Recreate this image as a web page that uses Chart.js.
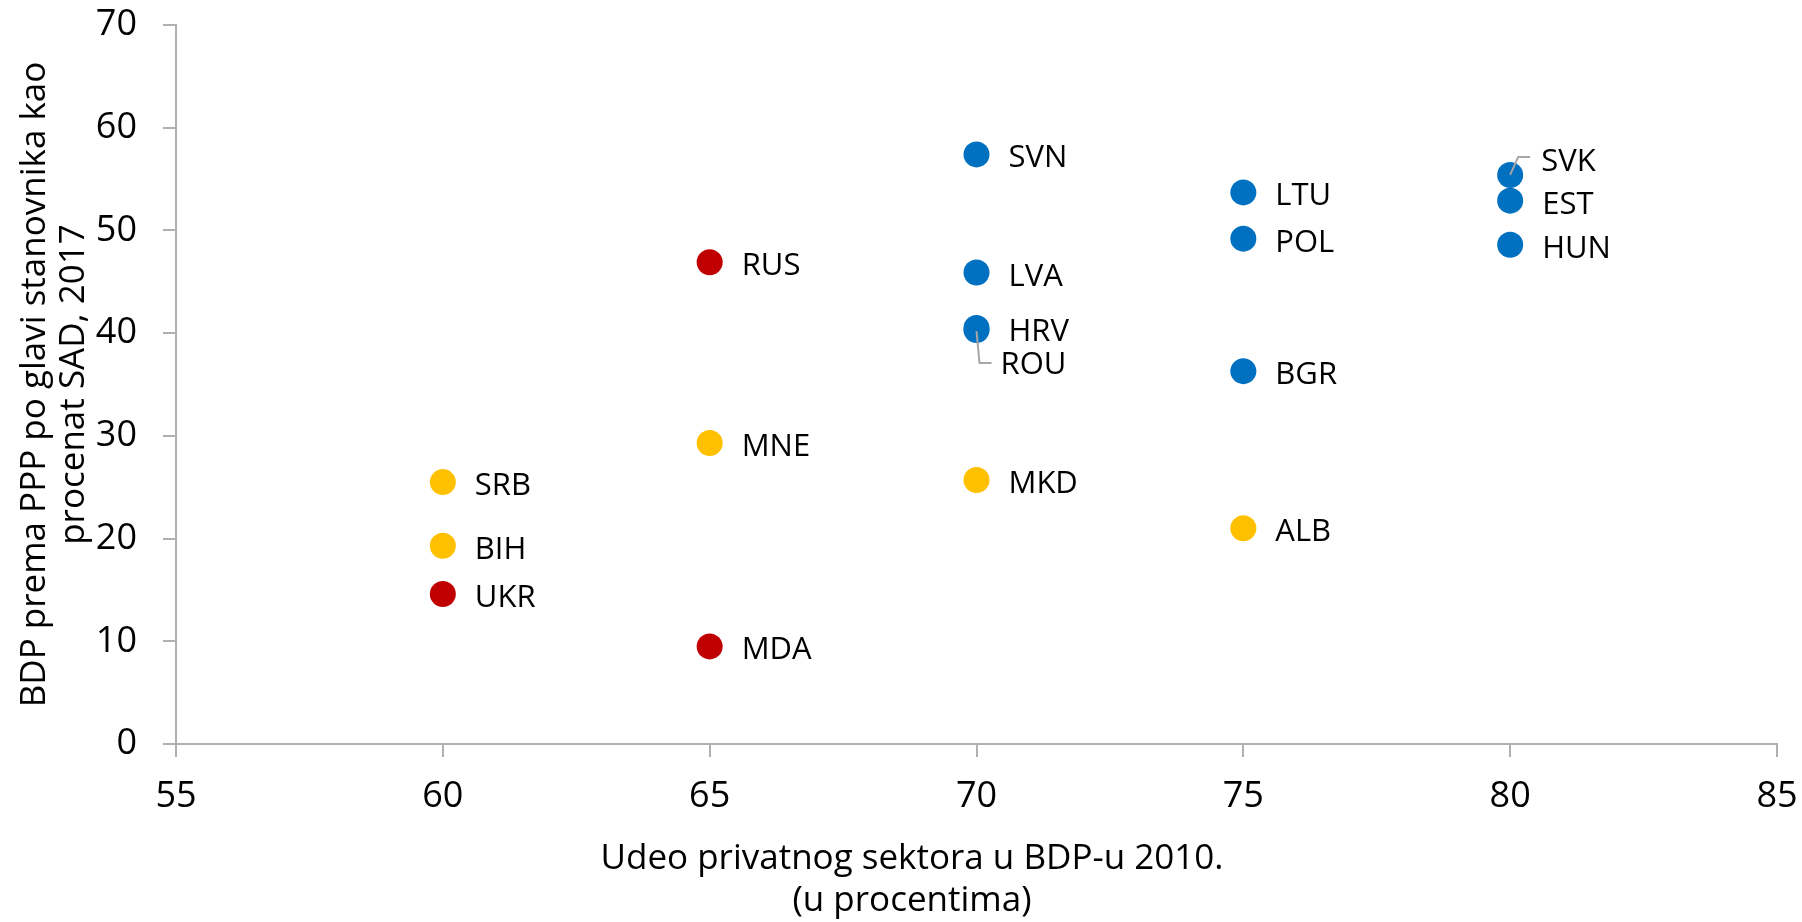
<!DOCTYPE html>
<html>
<head>
<meta charset="utf-8">
<script src="https://cdn.jsdelivr.net/npm/chart.js@4/dist/chart.umd.min.js"></script>
<style>
  html, body { margin: 0; padding: 0; background: #fff; }
  #wrap { width: 1802px; height: 922px; }
</style>
</head>
<body>
<div id="wrap"><canvas id="chart" width="1802" height="922"></canvas></div>
<script>
// Blue group
const blueNames = ["SVN", "LTU", "POL", "BGR", "LVA", "HRV", "ROU", "SVK", "EST", "HUN"]
const blueX = [70, 75, 75, 75, 70, 70, 70, 80, 80, 80]
const blueY = [57.4, 53.7, 49.2, 36.3, 45.9, 40.5, 40.3, 55.4, 52.9, 48.6]

// Red group
const redNames = ["RUS", "UKR", "MDA"]
const redX = [65, 60, 65]
const redY = [46.9, 14.6, 9.5]

// Yellow group
const yellowNames = ["SRB", "BIH", "MNE", "MKD", "ALB"]
const yellowX = [60, 60, 65, 70, 75]
const yellowY = [25.5, 19.3, 29.3, 25.7, 21.0]

const xTicks = [55, 60, 65, 70, 75, 80, 85]
const yTicks = [0, 10, 20, 30, 40, 50, 60, 70]

const yTitle = ["BDP prema PPP po glavi stanovnika kao", "procenat SAD, 2017"]
const xTitle = ["Udeo privatnog sektora u BDP-u 2010.", "(u procentima)"]

const FONT = "'Open Sans', 'Noto Sans', sans-serif"
const AXIS_GREY = "#b0b0b0"

// label placement tweaks (pixels), leader = polyline from the point
const labelOffsets = {
  SVK: { dx: 31, dy: -4, leader: [[0, 0], [8, -18], [20, -18]] },
  ROU: { dx: 24, dy: 44, leader: [[0, 1], [3, 33], [15, 33]] },
}

function toPoints(xs, ys) {
  return xs.map((x, i) => ({ x: x, y: ys[i] }))
}

const pointLabels = {
  id: "pointLabels",
  afterDatasetsDraw(chart) {
    const ctx = chart.ctx
    ctx.save()
    ctx.font = "31px " + FONT
    ctx.fillStyle = "#000"
    ctx.textAlign = "left"
    ctx.textBaseline = "alphabetic"
    chart.data.datasets.forEach((ds, di) => {
      const meta = chart.getDatasetMeta(di)
      meta.data.forEach((el, i) => {
        const name = ds.names[i]
        const off = labelOffsets[name] || { dx: 32, dy: 13 }
        if (off.leader) {
          ctx.strokeStyle = "#a6a6a6"
          ctx.lineWidth = 2
          ctx.beginPath()
          off.leader.forEach((p, k) => {
            if (k === 0) ctx.moveTo(el.x + p[0], el.y + p[1])
            else ctx.lineTo(el.x + p[0], el.y + p[1])
          })
          ctx.stroke()
        }
        ctx.fillText(name, el.x + off.dx, el.y + off.dy)
      })
    })
    ctx.restore()
  },
}

// x axis title is centred on the whole figure, not the plot area
const xAxisTitle = {
  id: "xAxisTitle",
  afterDraw(chart) {
    const ctx = chart.ctx
    ctx.save()
    ctx.font = "35px " + FONT
    ctx.fillStyle = "#000"
    ctx.textAlign = "center"
    ctx.textBaseline = "middle"
    const cx = chart.width / 2 + 11
    ctx.fillText(xTitle[0], cx, 859)
    ctx.fillText(xTitle[1], cx, 901)
    ctx.restore()
  },
}

const ctx = document.getElementById("chart").getContext("2d")

new Chart(ctx, {
  type: "scatter",
  data: {
    datasets: [
      {
        label: "blue",
        names: blueNames,
        data: toPoints(blueX, blueY),
        backgroundColor: "#0070C0",
        borderWidth: 0,
        pointRadius: 13,
      },
      {
        label: "red",
        names: redNames,
        data: toPoints(redX, redY),
        backgroundColor: "#C00000",
        borderWidth: 0,
        pointRadius: 13,
      },
      {
        label: "yellow",
        names: yellowNames,
        data: toPoints(yellowX, yellowY),
        backgroundColor: "#FFC000",
        borderWidth: 0,
        pointRadius: 13,
      },
    ],
  },
  options: {
    responsive: false,
    animation: false,
    layout: { padding: { top: 25, right: 25, left: 0, bottom: 0 } },
    scales: {
      x: {
        type: "linear",
        min: xTicks[0],
        max: xTicks[xTicks.length - 1],
        afterBuildTicks: (axis) => { axis.ticks = xTicks.map((v) => ({ value: v })) },
        afterFit: (axis) => {
          axis.height = 178
          axis.paddingLeft = 0
          axis.paddingRight = 0
        },
        border: { color: AXIS_GREY, width: 2 },
        grid: { drawOnChartArea: false, drawTicks: true, tickLength: 13, tickColor: AXIS_GREY, lineWidth: 2 },
        ticks: { color: "#000", font: { family: FONT, size: 36 }, padding: 18 },
      },
      y: {
        type: "linear",
        min: yTicks[0],
        max: yTicks[yTicks.length - 1],
        afterBuildTicks: (axis) => { axis.ticks = yTicks.map((v) => ({ value: v })) },
        afterFit: (axis) => {
          axis.width = 176
          axis.paddingTop = 0
          axis.paddingBottom = 0
        },
        border: { color: AXIS_GREY, width: 2 },
        grid: { drawOnChartArea: false, drawTicks: true, tickLength: 13, tickColor: AXIS_GREY, lineWidth: 2 },
        ticks: { color: "#000", font: { family: FONT, size: 36 }, padding: 26 },
        title: {
          display: true,
          text: yTitle,
          color: "#000",
          font: { family: FONT, size: 35, lineHeight: 1.1 },
          padding: { top: 16, bottom: 0 },
        },
      },
    },
    plugins: {
      legend: { display: false },
      tooltip: { enabled: false },
    },
  },
  plugins: [pointLabels, xAxisTitle],
})
</script>
</body>
</html>
